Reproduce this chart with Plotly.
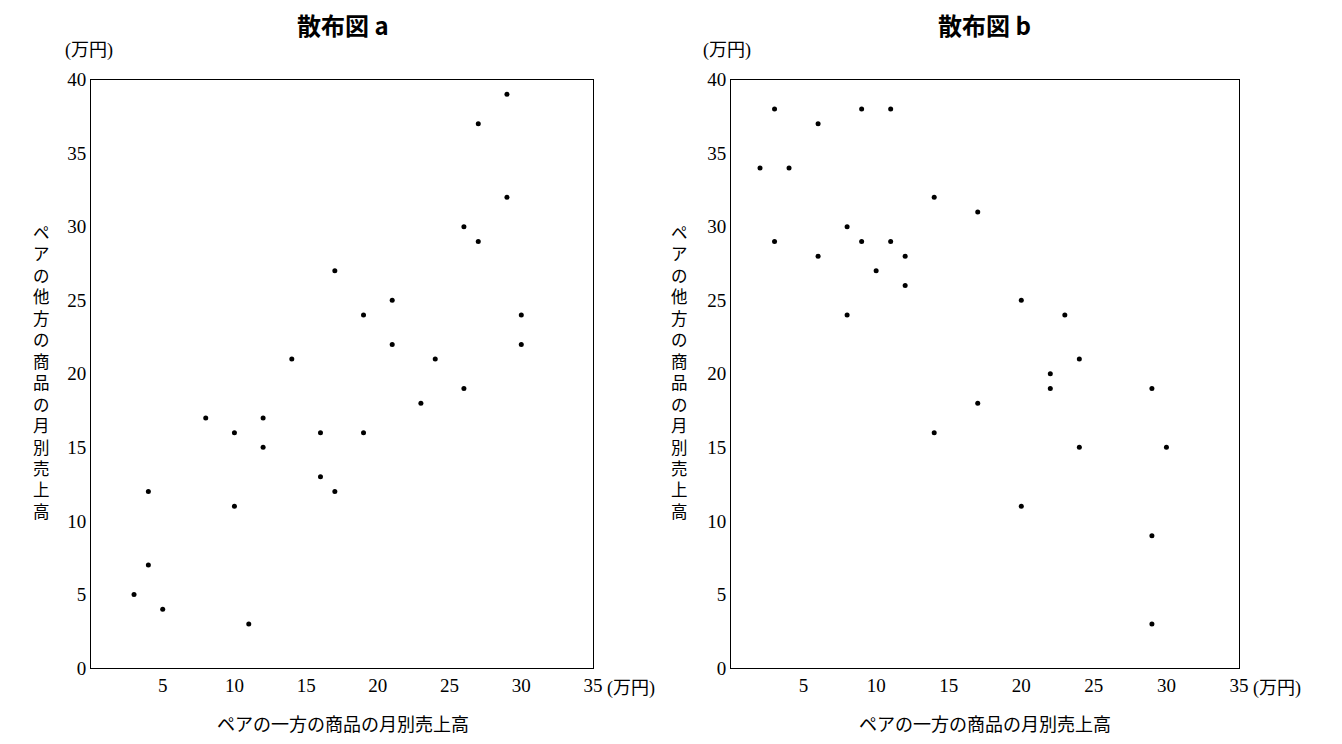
import plotly.graph_objects as go

# 散布図 a
xa = [3, 4, 4, 5, 8, 10, 10, 11, 12, 12, 14, 16, 16, 17, 17, 19, 19, 21, 21, 23, 24, 26, 26, 27, 27, 29, 29, 30, 30]
ya = [5, 12, 7, 4, 17, 16, 11, 3, 17, 15, 21, 16, 13, 27, 12, 24, 16, 25, 22, 18, 21, 30, 19, 37, 29, 39, 32, 24, 22]
# 散布図 b
xb = [2, 3, 3, 4, 6, 6, 8, 8, 9, 9, 10, 11, 11, 12, 12, 14, 14, 17, 17, 20, 20, 22, 22, 23, 24, 24, 29, 29, 29, 30]
yb = [34, 38, 29, 34, 37, 28, 30, 24, 38, 29, 27, 38, 29, 28, 26, 32, 16, 31, 18, 25, 11, 20, 19, 24, 21, 15, 19, 9, 3, 15]

titles = ["散布図 a", "散布図 b"]
xticks = [5, 10, 15, 20, 25, 30, 35]
yticks = [0, 5, 10, 15, 20, 25, 30, 35, 40]
xlabel = "ペアの一方の商品の月別売上高"
ylabel = "ペアの他方の商品の月別売上高"
unit = "(万円)"

serif = "Liberation Serif, Noto Sans CJK JP"
jp = "Noto Sans CJK JP"


def py(p):
    # pixel from top -> paper fraction (corrected for how the page renders)
    return 1 - (p - 16.1) / 0.9756 / 744


def px_(p):
    return p / 1342


fig = go.Figure()
fig.add_trace(go.Scatter(x=xa, y=ya, mode="markers", marker=dict(color="black", size=5), xaxis="x", yaxis="y"))
fig.add_trace(go.Scatter(x=xb, y=yb, mode="markers", marker=dict(color="black", size=5), xaxis="x2", yaxis="y2"))

axis_common = dict(showgrid=False, zeroline=False, showline=True, mirror=True, linecolor="black", linewidth=1,
                   ticks="", automargin=False, tickfont=dict(family=serif, size=19, color="black"))
ydom = [py(660), py(86)]
fig.update_layout(
    width=1342, height=744, margin=dict(l=0, r=0, t=0, b=0),
    plot_bgcolor="white", paper_bgcolor="white", showlegend=False,
    xaxis=dict(domain=[px_(83), px_(585)], range=[0, 35], tickvals=xticks, anchor="y", **axis_common),
    yaxis=dict(domain=ydom, range=[0, 40], tickvals=yticks, anchor="x", **axis_common),
    xaxis2=dict(domain=[px_(723), px_(1231)], range=[0, 35], tickvals=xticks, anchor="y2", **axis_common),
    yaxis2=dict(domain=ydom, range=[0, 40], tickvals=yticks, anchor="x2", **axis_common),
)

anns = []
for i, (x0, x1) in enumerate([(85, 585), (723, 1231)]):
    c = dict(xref="paper", yref="paper", showarrow=False, yanchor="middle")
    anns.append(dict(text="<b>" + titles[i] + "</b>", x=px_((x0 + x1) / 2), y=py(32), xanchor="center",
                     font=dict(family=jp, size=24, color="black"), **c))
    anns.append(dict(text=unit, x=px_(x0 - 30), y=py(58), xanchor="left",
                     font=dict(family=serif, size=18, color="black"), **c))
    anns.append(dict(text=unit, x=px_(x1 + 12), y=py(680), xanchor="left",
                     font=dict(family=serif, size=18, color="black"), **c))
    anns.append(dict(text=xlabel, x=px_((x0 + x1) / 2), y=py(716), xanchor="center",
                     font=dict(family=serif, size=18, color="black"), **c))
    anns.append(dict(text="<br>".join(ylabel), x=px_(x0 - 52), y=py(372), xanchor="center", align="center",
                     font=dict(family=serif, size=16.5, color="black"), **c))
fig.update_layout(annotations=anns)

fig.write_html("out.html")
